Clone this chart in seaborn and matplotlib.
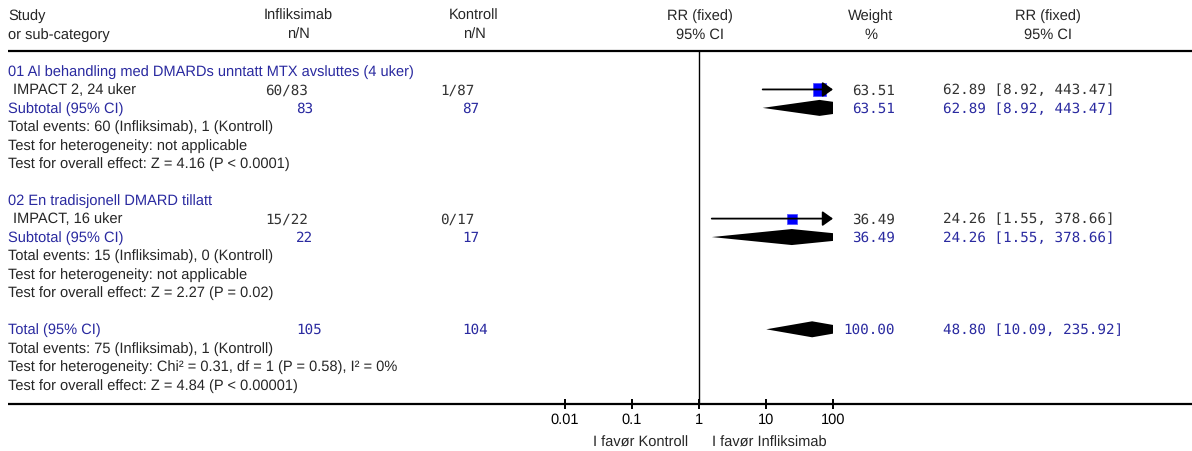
"""Forest plot: infliximab vs control, RR (fixed), RevMan style."""

import matplotlib

matplotlib.use("Agg")
import matplotlib.pyplot as plt
import pandas as pd
import seaborn as sns
from matplotlib.ticker import NullLocator

# ---- data -------------------------------------------------------------
groups = [
    "01 Al behandling med DMARDs unntatt MTX avsluttes (4 uker)",
    "02 En tradisjonell DMARD tillatt",
]
studies = ["IMPACT 2, 24 uker", "IMPACT, 16 uker"]
inf_events = [60, 15]
inf_total = [83, 22]
ctl_events = [1, 0]
ctl_total = [87, 17]
rr = [62.89, 24.26]
rr_lo = [8.92, 1.55]
rr_hi = [443.47, 378.66]
weight = [63.51, 36.49]

sub_rr = [62.89, 24.26]
sub_lo = [8.92, 1.55]
sub_hi = [443.47, 378.66]
sub_weight = [63.51, 36.49]
sub_notes = [
    [
        "Total events: 60 (Infliksimab), 1 (Kontroll)",
        "Test for heterogeneity: not applicable",
        "Test for overall effect: Z = 4.16 (P < 0.0001)",
    ],
    [
        "Total events: 15 (Infliksimab), 0 (Kontroll)",
        "Test for heterogeneity: not applicable",
        "Test for overall effect: Z = 2.27 (P = 0.02)",
    ],
]

total_inf = 105
total_ctl = 104
total_rr = 48.80
total_lo = 10.09
total_hi = 235.92
total_weight = 100.00
total_notes = [
    "Total events: 75 (Infliksimab), 1 (Kontroll)",
    "Test for heterogeneity: Chi² = 0.31, df = 1 (P = 0.58), I² = 0%",
    "Test for overall effect: Z = 4.84 (P < 0.00001)",
]

axis_ticks = [0.01, 0.1, 1, 10, 100]
axis_labels = ["0.01", "0.1", "1", "10", "100"]

# ---- style ------------------------------------------------------------
sns.set_style("white")
plt.rcParams["font.family"] = ["Liberation Sans", "DejaVu Sans"]
plt.rcParams["text.hinting"] = "no_hinting"

BLUE_TXT = "#2a2aa0"
DARK = "#333333"
SANS = 10.5
MONO = dict(family="DejaVu Sans Mono", size=10.3)

W, H = 1192, 452
ROW0, STEP = 72, 18.45


def row_y(i):
    return ROW0 + STEP * i


fig = plt.figure(figsize=(W / 100, H / 100), dpi=100)
ax = fig.add_axes([0, 0, 1, 1])
ax.set_xlim(0, W)
ax.set_ylim(H, 0)
ax.axis("off")

X0, X1 = 565, 833
fx = fig.add_axes([X0 / W, 0, (X1 - X0) / W, 1])
fx.patch.set_alpha(0)
fx.set_xscale("log")
fx.set_xlim(axis_ticks[0], axis_ticks[-1])
fx.set_ylim(H, 0)

TOP_LINE = 52
BOTTOM_LINE = 405

# header
ax.text(8, 16, "Study", va="center", fontsize=SANS)
ax.text(8, 35, "or sub-category", va="center", fontsize=SANS)
hdr = [(298, "Infliksimab", "n/N"),
       (474, "Kontroll", "n/N"),
       (700, "RR (fixed)", "95% CI"),
       (871, "Weight", "%"),
       (1048, "RR (fixed)", "95% CI")]
for x, l1, l2 in hdr:
    ax.text(x, 16, l1, ha="center", va="center", fontsize=SANS)
    ax.text(x, 35, l2, ha="center", va="center", fontsize=SANS)

ax.hlines([TOP_LINE, BOTTOM_LINE], 8, W, color="black", lw=1.6)
fx.vlines(1, TOP_LINE, BOTTOM_LINE, color="black", lw=1.0)

X_INF_N, X_INF_T = 265, 296
X_CTL_N, X_CTL_T = 440, 462
X_W, X_CI = 895, 943
DIA_H = 8


def ci_text(m, lo, hi):
    return f"{m:.2f} [{lo:.2f}, {hi:.2f}]"


def diamond(m, lo, hi, y):
    xs = [lo, m, hi, m]
    ys = [y, y - DIA_H, y, y + DIA_H]
    fx.fill(xs, ys, color="black", lw=0)


rows = []
for g in range(len(groups)):
    base = g * 7
    ax.text(8, row_y(base), groups[g], color=BLUE_TXT, va="center", fontsize=SANS)

    y = row_y(base + 1)
    rows.append(dict(rr=rr[g], y=y, w=weight[g]))
    ax.text(13, y, studies[g], va="center", fontsize=SANS)
    ax.text(X_INF_N, y, f"{inf_events[g]}/{inf_total[g]}", va="center", color=DARK, **MONO)
    ax.text(X_CTL_N, y, f"{ctl_events[g]}/{ctl_total[g]}", va="center", color=DARK, **MONO)
    ax.text(X_W, y, f"{weight[g]:.2f}", ha="right", va="center", color=DARK, **MONO)
    ax.text(X_CI, y, ci_text(rr[g], rr_lo[g], rr_hi[g]), va="center", color=DARK, **MONO)
    right = min(rr_hi[g], axis_ticks[-1])
    if rr_hi[g] > axis_ticks[-1]:
        fx.annotate("", xy=(right, y), xytext=(rr_lo[g], y),
                    arrowprops=dict(arrowstyle="-|>,head_length=0.45,head_width=0.32",
                                    color="black", lw=1.3, shrinkA=0, shrinkB=0,
                                    mutation_scale=14),
                    annotation_clip=False, zorder=6)
    else:
        fx.plot([rr_lo[g], right], [y, y], color="black", lw=1.3)

    y = row_y(base + 2)
    ax.text(8, y, "Subtotal (95% CI)", color=BLUE_TXT, va="center", fontsize=SANS)
    ax.text(X_INF_T, y, f"{inf_total[g]}", color=BLUE_TXT, va="center", **MONO)
    ax.text(X_CTL_T, y, f"{ctl_total[g]}", color=BLUE_TXT, va="center", **MONO)
    ax.text(X_W, y, f"{sub_weight[g]:.2f}", ha="right", color=BLUE_TXT, va="center", **MONO)
    ax.text(X_CI, y, ci_text(sub_rr[g], sub_lo[g], sub_hi[g]), color=BLUE_TXT, va="center", **MONO)
    diamond(sub_rr[g], sub_lo[g], sub_hi[g], y)

    for k, note in enumerate(sub_notes[g]):
        ax.text(8, row_y(base + 3 + k), note, va="center", fontsize=SANS)

# squares sized by weight
sq = pd.DataFrame(rows)
sns.scatterplot(data=sq, x="rr", y="y", size="w", sizes=(52, 92), marker="s",
                color="#0000ff", edgecolor="#4a4aff", linewidth=0.5, legend=False,
                ax=fx, zorder=5)

# overall
y = row_y(14)
ax.text(8, y, "Total (95% CI)", color=BLUE_TXT, va="center", fontsize=SANS)
ax.text(X_INF_T, y, f"{total_inf}", color=BLUE_TXT, va="center", **MONO)
ax.text(X_CTL_T, y, f"{total_ctl}", color=BLUE_TXT, va="center", **MONO)
ax.text(X_W, y, f"{total_weight:.2f}", ha="right", color=BLUE_TXT, va="center", **MONO)
ax.text(X_CI, y, ci_text(total_rr, total_lo, total_hi), color=BLUE_TXT, va="center", **MONO)
diamond(total_rr, total_lo, total_hi, y)
for k, note in enumerate(total_notes):
    ax.text(8, row_y(15 + k), note, va="center", fontsize=SANS)

# log axis
for side in ["top", "left", "right", "bottom"]:
    fx.spines[side].set_visible(False)
fx.spines["bottom"].set_position(("data", BOTTOM_LINE))
fx.set_xticks(axis_ticks, axis_labels)
fx.xaxis.set_minor_locator(NullLocator())
fx.set_yticks([])
fx.set_xlabel("")
fx.set_ylabel("")
fx.tick_params(axis="x", bottom=True, direction="inout", length=7, width=1.4,
               pad=2, labelsize=SANS, colors="black")

ax.text(688, 443, "I favør Kontroll", ha="right", va="center", fontsize=SANS)
ax.text(712, 443, "I favør Infliksimab", ha="left", va="center", fontsize=SANS)

fig.savefig("out.png", dpi=100)
